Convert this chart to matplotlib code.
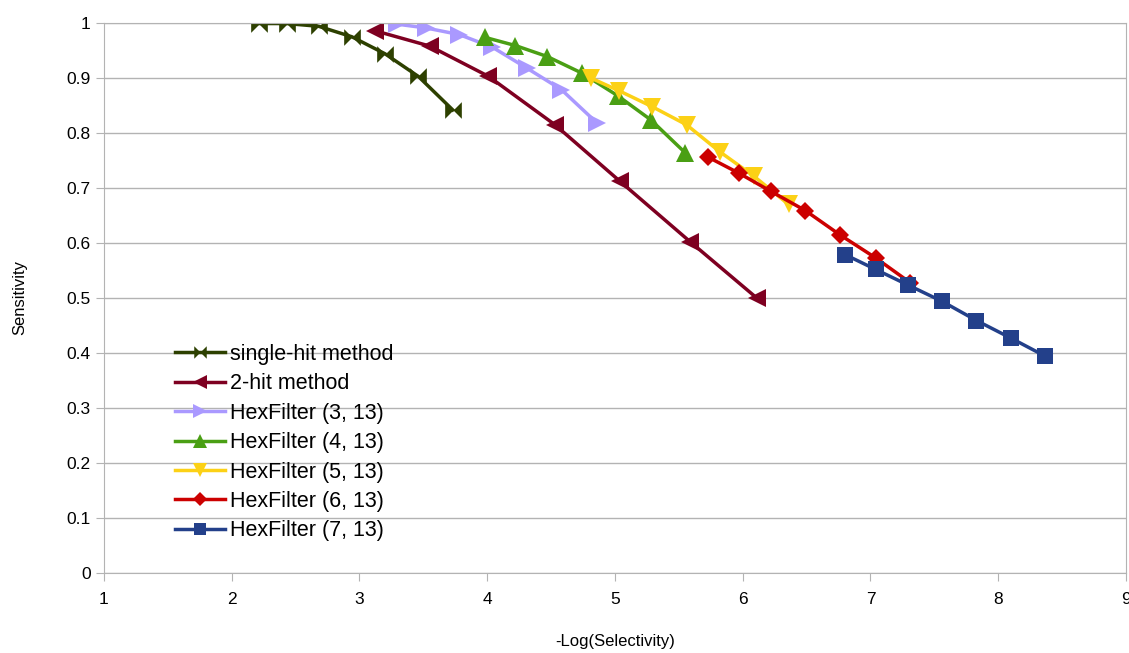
import matplotlib
matplotlib.use('Agg')
from matplotlib import pyplot as plt

plt.rcParams['font.family'] = ['Liberation Sans', 'DejaVu Sans']

# single-hit method
single_x = [2.21, 2.43, 2.68, 2.94, 3.20, 3.46, 3.73]
single_y = [0.999, 0.999, 0.994, 0.975, 0.944, 0.903, 0.842]
# 2-hit method
two_x = [3.12, 3.55, 4.01, 4.53, 5.04, 5.59, 6.11]
two_y = [0.986, 0.958, 0.903, 0.815, 0.712, 0.602, 0.500]
# HexFilter (3, 13)
h3_x = [3.29, 3.52, 3.78, 4.04, 4.31, 4.58, 4.86]
h3_y = [0.998, 0.991, 0.979, 0.956, 0.918, 0.879, 0.818]
# HexFilter (4, 13)
h4_x = [3.98, 4.22, 4.47, 4.74, 5.02, 5.28, 5.55]
h4_y = [0.974, 0.959, 0.939, 0.909, 0.868, 0.824, 0.764]
# HexFilter (5, 13)
h5_x = [4.81, 5.03, 5.29, 5.56, 5.82, 6.09, 6.36]
h5_y = [0.900, 0.877, 0.848, 0.815, 0.766, 0.721, 0.670]
# HexFilter (6, 13)
h6_x = [5.73, 5.97, 6.22, 6.49, 6.76, 7.04, 7.31]
h6_y = [0.756, 0.727, 0.694, 0.659, 0.615, 0.573, 0.528]
# HexFilter (7, 13)
h7_x = [6.80, 7.04, 7.29, 7.56, 7.83, 8.10, 8.37]
h7_y = [0.579, 0.552, 0.524, 0.494, 0.459, 0.427, 0.394]

bowtie = [(-1, -1), (1, 1), (1, -1), (-1, 1)]

series = [
    (single_x, single_y, 'single-hit method', '#2d4000', bowtie, 12),
    (two_x, two_y, '2-hit method', '#7e0021', '<', 13),
    (h3_x, h3_y, 'HexFilter (3, 13)', '#aa99ff', '>', 13),
    (h4_x, h4_y, 'HexFilter (4, 13)', '#4a9f14', '^', 13),
    (h5_x, h5_y, 'HexFilter (5, 13)', '#fcd116', 'v', 13),
    (h6_x, h6_y, 'HexFilter (6, 13)', '#cc0000', 'D', 9),
    (h7_x, h7_y, 'HexFilter (7, 13)', '#23408a', 's', 11),
]

fig = plt.figure(figsize=(11.29, 6.53), dpi=100)
ax = fig.add_axes([0.0921, 0.1225, 0.9052, 0.8423])

for xs, ys, label, color, mk, ms in series:
    ax.plot(xs, ys, color=color, linewidth=2.5, marker=mk, markersize=ms,
            markeredgewidth=0, label=label)

ax.set_xlim(1, 9)
ax.set_ylim(0, 1)
ax.set_xticks(range(1, 10))
ax.set_yticks([i / 10 for i in range(11)])
ax.set_yticklabels(['0', '0.1', '0.2', '0.3', '0.4', '0.5', '0.6', '0.7', '0.8', '0.9', '1'])
ax.grid(axis='y', color='#b3b3b3', linewidth=1)
ax.set_axisbelow(True)
for s in ax.spines.values():
    s.set_color('#b3b3b3')
ax.tick_params(axis='both', colors='#b3b3b3', labelcolor='black', labelsize=12.5,
               length=6, direction='out')
ax.tick_params(axis='x', pad=8)

ax.set_xlabel('-Log(Selectivity)', fontsize=12, labelpad=19)
ax.set_ylabel('Sensitivity', fontsize=12, labelpad=28)

leg = ax.legend(loc='lower left', bbox_to_anchor=(0.059, 0.038), frameon=False,
                fontsize=15.5, handlelength=2.3, labelspacing=0.39, handletextpad=0.25,
                borderpad=0, markerscale=0.75)

fig.savefig('out.png', dpi=100)
